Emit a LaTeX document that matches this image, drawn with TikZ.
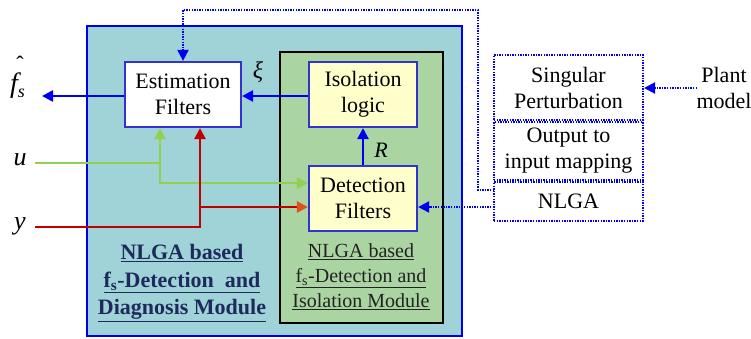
\documentclass[tikz,border=0pt]{standalone}
\usepackage{fontspec}
\setmainfont{Liberation Serif}
\usetikzlibrary{arrows.meta}
\definecolor{tealfill}{HTML}{9FD3D8}
\definecolor{greenfill}{HTML}{AAD5A2}
\definecolor{yelfill}{HTML}{FFFFCC}
\definecolor{boxblue}{HTML}{3333CC}
\definecolor{lineblue}{HTML}{0000F0}
\definecolor{ugreen}{HTML}{92D050}
\definecolor{yred}{HTML}{C00000}
\definecolor{yorange}{HTML}{E2501A}
\definecolor{navytext}{HTML}{1F2A5C}
\definecolor{graytext}{HTML}{222222}
\begin{document}
\begin{tikzpicture}[x=1pt,y=-1pt,
  txt/.style={font=\fontsize{22}{26}\selectfont,align=center,inner sep=0pt},
  fbox/.style={draw=boxblue,line width=2.2pt,minimum height=65pt,txt},
  dotbox/.style={draw=lineblue,line width=2pt,dash pattern=on 1.4pt off 1.2pt,minimum width=149pt,txt},
  arr/.style={line width=2.5pt,-{Triangle[length=11pt,width=11pt]}},
  dotarr/.style={draw=lineblue,line width=2pt,dash pattern=on 1.4pt off 1.2pt,-{Triangle[length=11pt,width=11pt,sep=0pt]}},
  lbl/.style={inner sep=0pt,font=\fontsize{26}{30}\selectfont\itshape}
]
\useasboundingbox (0,0) rectangle (751,338);
% modules
\draw[lineblue,line width=2pt,fill=tealfill] (87,26) rectangle (462,336);
\draw[black,line width=2.5pt,fill=greenfill] (280,52) rectangle (443,323);
% boxes
\node[fbox,fill=white,minimum width=116pt] (est) at (183,94.5) {Estimation\\Filters};
\node[fbox,fill=yelfill,minimum width=108pt] (iso) at (363,94.5) {Isolation\\logic};
\node[fbox,fill=yelfill,minimum width=108pt] (det) at (363,198.5) {Detection\\Filters};
% right dotted boxes
\node[dotbox,minimum height=65pt] (sp) at (568.5,87.5) {Singular\\Perturbation};
\node[dotbox,minimum height=58pt,anchor=north] (oi) at (sp.south) {Output to\\input mapping};
\node[dotbox,minimum height=39pt,anchor=north] (nl) at (oi.south) {NLGA};
\node[txt] (plant) at (724,88) {Plant\\model};
% labels
\node[lbl,font=\fontsize{28}{30}\selectfont\itshape,anchor=base west] (fhat) at (10,92) {f\raisebox{-5pt}{\fontsize{18}{20}\selectfont s}};
\node[inner sep=0pt,font=\fontsize{22}{24}\selectfont] (hat) at (20,64) {ˆ};
\node[lbl] (ulab) at (20,160) {u};
\node[lbl] (ylab) at (20,226) {y};
\node[lbl,font=\fontsize{24}{26}\selectfont\itshape] (xi) at (258,72) {ξ};
\node[lbl,font=\fontsize{22}{26}\selectfont\itshape] (Rlab) at (381,150) {R};
\node[txt,font=\fontsize{22}{27.5}\selectfont\bfseries,text=navytext] (lefttxt) at (182,283)
  {\underline{NLGA based}\\\underline{f\textsubscript{s}-Detection\ \ and}\\\underline{Diagnosis Module}};
\node[txt,font=\fontsize{20}{25}\selectfont,text=graytext] (intxt) at (361,277)
  {\underline{NLGA based}\\\underline{f\textsubscript{s}-Detection and}\\\underline{Isolation Module}};
% coordinates
\coordinate (fout) at (42,96);
\coordinate (uin) at (35,163);
\coordinate (ub) at (160,163);
\coordinate (yin) at (35,227);
\coordinate (yb) at (200,227);
\coordinate (yj) at (200,207);
\coordinate (nlin) at (494,207);
\coordinate (nlup) at (494,190);
\coordinate (c1) at (478,190);
\coordinate (c2) at (478,10);
\coordinate (plantout) at (697,88);
% blue connectors
\draw[arr,lineblue] (est.west |- fout) -- (fout);
\draw[arr,lineblue] (iso.west |- 0,96) -- (est.east |- 0,96);
\draw[arr,lineblue] (det.north) -- (iso.south);
% u
\draw[arr,ugreen] (uin) -- (ub) -- (ub |- est.south);
\draw[arr,ugreen] (ub) |- ([yshift=15.5pt]det.west);
% y
\draw[arr,yred] (yin) -- (yb) -- (yb |- est.south);
\draw[line width=2.5pt,yred,-{Triangle[length=11pt,width=11pt,color=yorange]}] (yj) -- (yj -| det.west);
% dotted
\draw[dotarr] (plantout) -- (plantout -| sp.east);
\draw[dotarr] (nlin) -- (nlin -| det.east);
\draw[dotarr] (nlup) -- (c1) -- (c2) -- (c2 -| est.north) -- (est.north);
\end{tikzpicture}
\end{document}
